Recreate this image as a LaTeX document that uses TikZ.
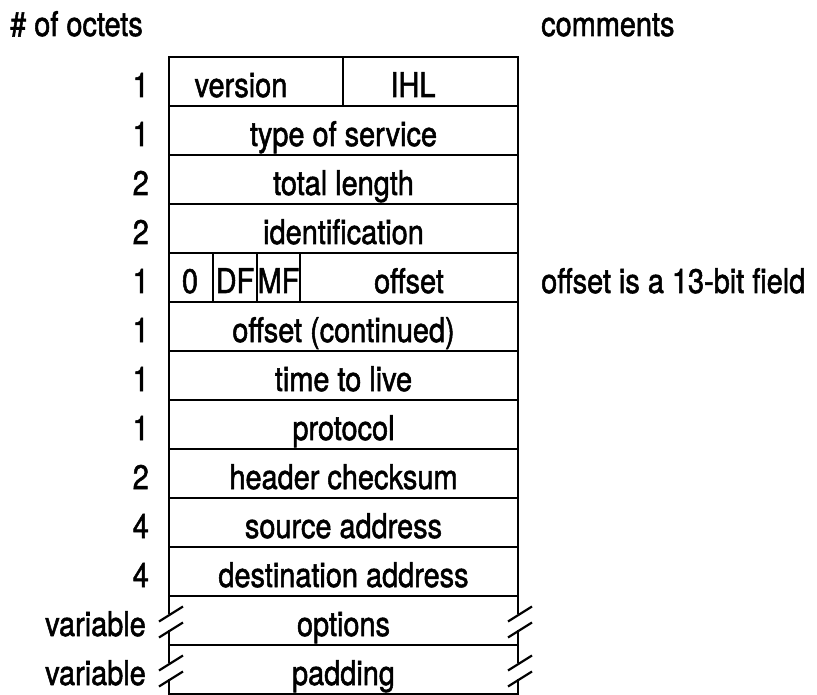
\documentclass[tikz,border=0pt]{standalone}
\usepackage{fontspec}
\setmainfont{TeX Gyre Heros}[FakeStretch=0.85,FakeBold=1.5]
\begin{document}
\begin{tikzpicture}[x=1pt,y=-1pt,line width=2.4pt,
  txt/.style={font=\fontsize{34}{40}\selectfont,inner sep=0pt,anchor=base},
  num/.style={txt,anchor=base east},
  brk/.style={line width=2.2pt}]
\useasboundingbox (0,0) rectangle (817,695);

% column headings
\node[txt,anchor=base west] (hoct) at (9,36) {\# of octets};
\node[txt,anchor=base west] (hcom) at (540,36) {comments};

% outer frame of the fixed part and the row dividers
\draw (169,57) rectangle (518,596);
\foreach \y in {106,155,204,253,302,351,400,449,498,547}
  \draw (169,\y) -- (518,\y);
% cell dividers
\draw (343,57) -- (343,106);
\draw (213,253) -- (213,302);
\draw (257,253) -- (257,302);
\draw (300,253) -- (300,302);

% field names
\node[txt] (ver) at (241,97) {version};
\node[txt] (ihl) at (413,97) {IHL};
\node[txt] (tos) at (343.5,146) {type of service};
\node[txt] (tlen) at (343.5,195) {total length};
\node[txt] (ident) at (343.5,244) {identification};
\node[txt] (zero) at (190,293) {0};
\node[txt] (df) at (235,293) {DF};
\node[txt] (mf) at (278.5,293) {MF};
\node[txt] (off) at (409,293) {offset};
\node[txt] (offc) at (343.5,342) {offset (continued)};
\node[txt] (ttl) at (343.5,391) {time to live};
\node[txt] (proto) at (343.5,440) {protocol};
\node[txt] (hcs) at (343.5,489) {header checksum};
\node[txt] (src) at (343.5,538) {source address};
\node[txt] (dst) at (343.5,587) {destination address};
\node[txt] (opt) at (343.5,636) {options};
\node[txt] (pad) at (343.5,685) {padding};

% octet counts
\node[num] (n1) at (150,97) {1};
\node[num] (n2) at (150,146) {1};
\node[num] (n3) at (150,195) {2};
\node[num] (n4) at (150,244) {2};
\node[num] (n5) at (150,293) {1};
\node[num] (n6) at (150,342) {1};
\node[num] (n7) at (150,391) {1};
\node[num] (n8) at (150,440) {1};
\node[num] (n9) at (150,489) {2};
\node[num] (n10) at (150,538) {4};
\node[num] (n11) at (150,587) {4};
\node[num] (n12) at (147,636) {variable};
\node[num] (n13) at (147,685) {variable};

% comment
\node[txt,anchor=base west] (cmt) at (540,293) {offset is a 13-bit field};

% variable-length rows: horizontal edges
\draw (169,645) -- (518,645);
\draw (169,694) -- (518,694);

% break marks on the side edges
\foreach \x/\n in {169/L,518/R}{
  \coordinate (o\n1) at (\x+2,614);
  \coordinate (o\n2) at (\x+2,630);
  \coordinate (p\n1) at (\x+2,663);
  \coordinate (p\n2) at (\x+2,679);
  \draw (\x,596) -- (\x,614);
  \draw (\x,630) -- (\x,663);
  \draw (\x,679) -- (\x,697);
  \foreach \c in {o\n1,o\n2,p\n1,p\n2}
    \draw[brk] (\c) ++(-12,7.5) -- ++(24,-15);
}
\end{tikzpicture}
\end{document}
